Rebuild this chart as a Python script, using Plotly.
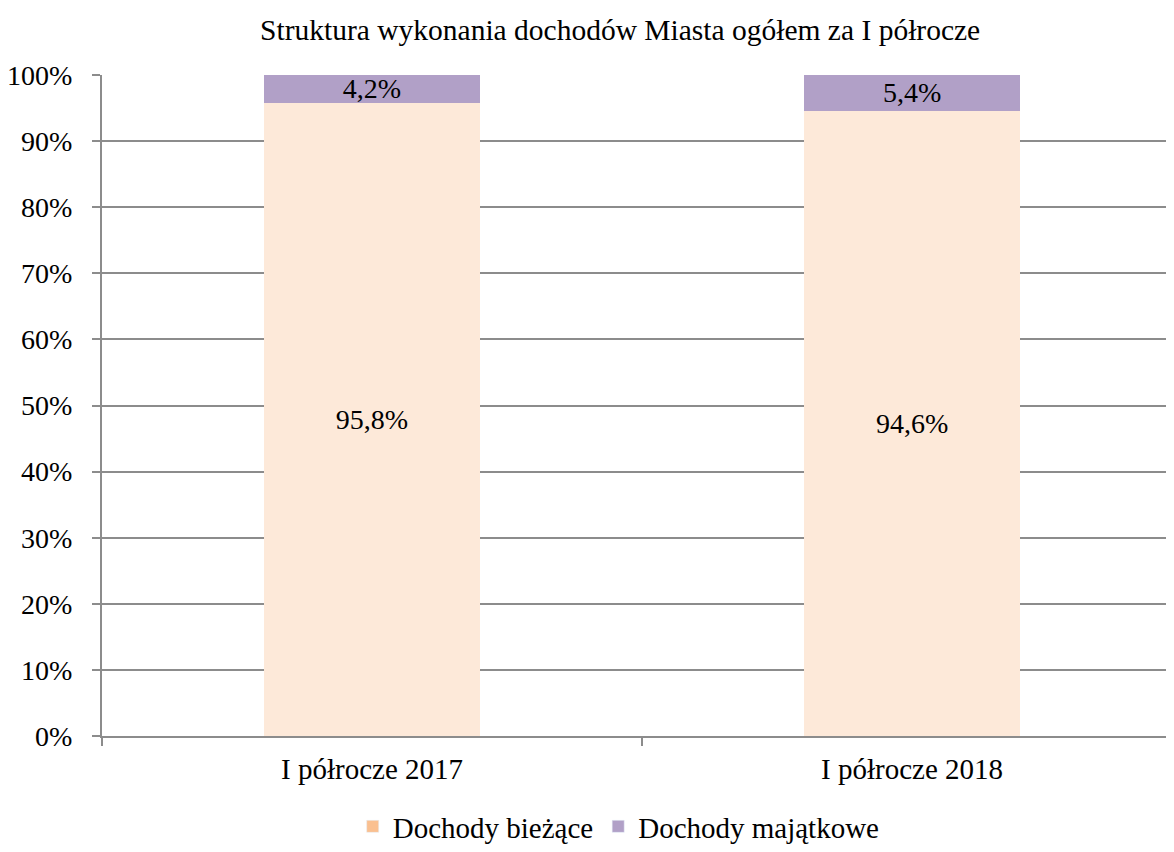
import plotly.graph_objects as go

categories = ["I półrocze 2017", "I półrocze 2018"]
biezace = [95.8, 94.6]
majatkowe = [4.2, 5.4]
biezace_labels = ["95,8%", "94,6%"]
majatkowe_labels = ["4,2%", "5,4%"]
series_names = ["Dochody bieżące", "Dochody majątkowe"]
y_ticks = [0, 10, 20, 30, 40, 50, 60, 70, 80, 90, 100]
y_tick_labels = [f"{v}%" for v in y_ticks]

bar_fill = ["#FDE9D9", "#B1A0C7"]
legend_fill = ["#FAC090", "#B1A0C7"]
font_family = "Liberation Serif, Times New Roman, serif"

fig = go.Figure()
fig.add_trace(go.Bar(
    x=categories, y=biezace, name=series_names[0], text=biezace_labels,
    textposition="inside", insidetextanchor="middle", textangle=0, constraintext="none",
    textfont=dict(family=font_family, size=28, color="#000000"),
    marker=dict(color=bar_fill[0], line=dict(width=0)), width=0.4, showlegend=False,
    hoverinfo="skip"))
fig.add_trace(go.Bar(
    x=categories, y=majatkowe, name=series_names[1], text=majatkowe_labels,
    textposition="inside", insidetextanchor="middle", textangle=0, constraintext="none",
    textfont=dict(family=font_family, size=28, color="#000000"),
    marker=dict(color=bar_fill[1], line=dict(width=0)), width=0.4, showlegend=False,
    hoverinfo="skip"))
for name, col in zip(series_names, legend_fill):
    fig.add_trace(go.Bar(x=[None], y=[None], name=name, marker=dict(color=col), showlegend=True))

fig.update_layout(
    width=1166, height=844,
    barmode="stack",
    plot_bgcolor="white", paper_bgcolor="white",
    margin=dict(l=94, r=0, t=67, b=116),
    font=dict(family=font_family, size=28, color="#000000"),
    title=dict(text="Struktura wykonania dochodów Miasta ogółem za I półrocze",
               x=0.525, xanchor="center", y=0.974, yanchor="middle",
               font=dict(family=font_family, size=29.5, color="#000000")),
    legend=dict(orientation="h", x=0.482, xanchor="center", y=-0.1755, yanchor="bottom",
                font=dict(family=font_family, size=29), itemwidth=30,
                traceorder="normal", itemclick=False),
    showlegend=True,
)
fig.update_xaxes(
    type="category", range=[-0.5, 1.485], showgrid=False,
    showline=True, linecolor="#8C8C8C", linewidth=2,
    ticks="outside", tickson="boundaries", ticklen=8, tickcolor="#8C8C8C", tickwidth=1.5,
    tickfont=dict(family=font_family, size=29), ticklabelstandoff=6, fixedrange=True,
)
fig.update_yaxes(
    range=[0, 100], tickvals=y_ticks, ticktext=y_tick_labels,
    showgrid=True, gridcolor="#8C8C8C", gridwidth=2,
    showline=True, linecolor="#8C8C8C", linewidth=2,
    ticks="outside", ticklen=8, tickcolor="#8C8C8C", tickwidth=1.5,
    tickfont=dict(family=font_family, size=28), ticklabelstandoff=14,
    zeroline=False, fixedrange=True,
)

fig.write_html("out.html")
